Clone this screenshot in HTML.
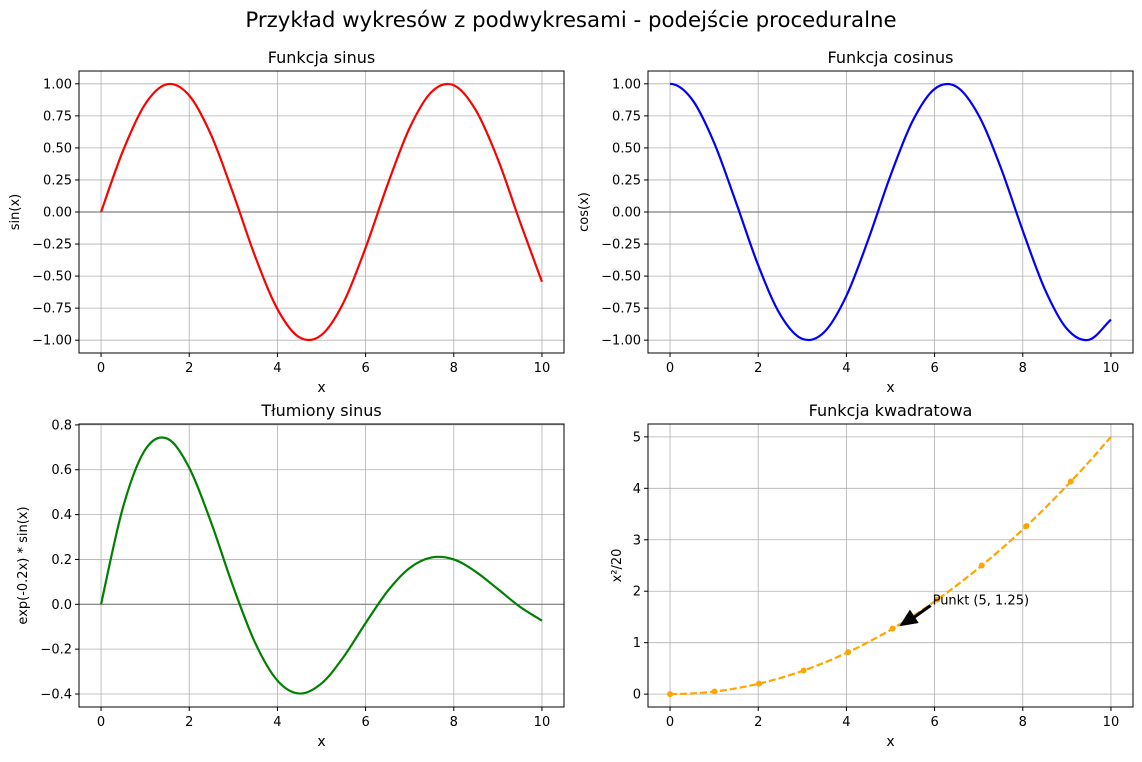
<!DOCTYPE html>
<html><head><meta charset="utf-8">
<style>
body{margin:0;background:#fff;font-family:"Liberation Sans","DejaVu Sans",sans-serif;}
svg text{font-family:"DejaVu Sans","Liberation Sans",sans-serif;}
</style></head>
<body>
<svg id="fig" width="1142" height="757" xmlns="http://www.w3.org/2000/svg">
<rect width="1142" height="757" fill="#fff"/>
<text x="571" y="27" text-anchor="middle" font-size="21.3">Przykład wykresów z podwykresami - podejście proceduralne</text>
</svg>
<script>
const xs = [0,0.5,1,1.5,2,2.5,3,3.5,4,4.5,5,5.5,6,6.5,7,7.5,8,8.5,9,9.5,10];
const sinVals = [0,.479,.841,.997,.909,.598,.141,-.351,-.757,-.978,-.959,-.706,-.279,.215,.657,.938,.989,.794,.412,-.075,-.544];
const cosVals = [1,.878,.540,.071,-.416,-.801,-.990,-.936,-.654,-.211,.284,.709,.960,.977,.754,.347,-.146,-.602,-.911,-.997,-.839];
const dampVals = [0,.434,.689,.739,.609,.363,.077,-.174,-.340,-.398,-.353,-.235,-.084,.059,.162,.209,.200,.145,.068,-.011,-.073];
const quadVals = [0,.0125,.05,.1125,.2,.3125,.45,.6125,.8,1.0125,1.25,1.5125,1.8,2.1125,2.45,2.8125,3.2,3.6125,4.05,4.5125,5];
const markerX = [0,1.01,2.02,3.03,4.04,5.05,6.06,7.07,8.08,9.09];
const markerY = [0,.051,.204,.459,.816,1.276,1.837,2.5,3.265,4.132];
const xTicks = [0,2,4,6,8,10];
const trigTicks = [-1,-0.75,-0.5,-0.25,0,0.25,0.5,0.75,1];
const dampTicks = [-0.4,-0.2,0,0.2,0.4,0.6,0.8];
const quadTicks = [0,1,2,3,4,5];

const NS="http://www.w3.org/2000/svg";
const svg=document.getElementById('fig');
function el(tag,attrs,parent){const e=document.createElementNS(NS,tag);for(const k in attrs)e.setAttribute(k,attrs[k]);(parent||svg).appendChild(e);return e;}

function panel(o){
  const g=el('g',{});
  
  
  const sx=v=>o.x0+(v-o.xmin)/(o.xmax-o.xmin)*(o.x1-o.x0);
  const sy=v=>o.y1-(v-o.ymin)/(o.ymax-o.ymin)*(o.y1-o.y0);
  xTicks.forEach(t=>{const l=el('line',{x1:sx(t),x2:sx(t),y1:o.y0,y2:o.y1,stroke:'#b0b0b0','stroke-width':0.8},g);
    });
  o.yTicks.forEach(t=>{const l=el('line',{x1:o.x0,x2:o.x1,y1:sy(t),y2:sy(t),stroke:'#b0b0b0','stroke-width':0.8},g);
    });
  if(o.zero){const z=el('line',{x1:o.x0,x2:o.x1,y1:sy(0),y2:sy(0),stroke:'#808080','stroke-width':1.2},g);
    }
  const P=o.xs.map((x,i)=>[sx(x),sy(o.ys[i])]);
  const n=P.length;
  // extrapolated end points for smoother ends
  const pre=[2*P[0][0]-P[1][0],P[1][1]];
  const post=[2*P[n-1][0]-P[n-2][0],2*P[n-1][1]-P[n-2][1]];
  let d='M'+P[0][0]+','+P[0][1];
  for(let i=0;i<n-1;i++){
    const p0=i>0?P[i-1]:(o.symStart?pre:P[0]),p1=P[i],p2=P[i+1],p3=i+2<n?P[i+2]:post;
    d+=` C${p1[0]+(p2[0]-p0[0])/6},${p1[1]+(p2[1]-p0[1])/6} ${p2[0]-(p3[0]-p1[0])/6},${p2[1]-(p3[1]-p1[1])/6} ${p2[0]},${p2[1]}`;
  }
  const c=el('path',{d:d,fill:'none',stroke:o.color,'stroke-width':2.2,'stroke-dasharray':o.dash||'none'},g);
  
  if(o.mx){o.mx.forEach((x,i)=>{const m=el('circle',{cx:sx(x),cy:sy(o.my[i]),r:3,fill:o.color},g);
    });}
  const f=el('rect',{x:o.x0,y:o.y0,width:o.x1-o.x0,height:o.y1-o.y0,fill:'none',stroke:'#000','stroke-width':1},g);
  
  xTicks.forEach(t=>{el('line',{x1:sx(t),x2:sx(t),y1:o.y1,y2:o.y1+4,stroke:'#000'},g);
    const tx=el('text',{x:sx(t),y:o.y1+19,'text-anchor':'middle','font-size':13},g);tx.textContent=t;
    });
  o.yTicks.forEach(t=>{el('line',{x1:o.x0-4,x2:o.x0,y1:sy(t),y2:sy(t),stroke:'#000'},g);
    const tx=el('text',{x:o.x0-7,y:sy(t)+4.5,'text-anchor':'end','font-size':13},g);
    tx.textContent=(t<0?'\u2212':'')+Math.abs(t).toFixed(o.dec);
    });
  const ti=el('text',{x:(o.x0+o.x1)/2,y:o.y0-8,'text-anchor':'middle','font-size':16},g);ti.textContent=o.title;
  
  const xl=el('text',{x:(o.x0+o.x1)/2,y:o.y1+39,'text-anchor':'middle','font-size':14},g);xl.textContent='x';
  
  const yc=(o.y0+o.y1)/2;
  const yl=el('text',{x:o.ylx,y:yc,'text-anchor':'middle','font-size':13,transform:`rotate(-90 ${o.ylx} ${yc})`},g);yl.textContent=o.ylabel;
  
  return {sx,sy,g};
}
panel({name:'sine-plot',x0:79,x1:564,y0:71,y1:353,xmin:-0.5,xmax:10.5,ymin:-1.1,ymax:1.1,yTicks:trigTicks,dec:2,xs:xs,ys:sinVals,color:'#ff0000',zero:true,title:'Funkcja sinus',ylabel:'sin(x)',ylx:19});
panel({name:'cosine-plot',x0:648,x1:1133,y0:71,y1:353,xmin:-0.5,xmax:10.5,ymin:-1.1,ymax:1.1,yTicks:trigTicks,dec:2,xs:xs,ys:cosVals,color:'#0000ff',zero:true,symStart:true,title:'Funkcja cosinus',ylabel:'cos(x)',ylx:588});
panel({name:'damped-sine-plot',x0:79,x1:564,y0:424,y1:707,xmin:-0.5,xmax:10.5,ymin:-0.458,ymax:0.804,yTicks:dampTicks,dec:1,xs:xs,ys:dampVals,color:'#008000',zero:true,title:'Tłumiony sinus',ylabel:'exp(-0.2x) * sin(x)',ylx:27});
const q=panel({name:'quadratic-plot',x0:648,x1:1133,y0:424,y1:707,xmin:-0.5,xmax:10.5,ymin:-0.25,ymax:5.25,yTicks:quadTicks,dec:0,xs:xs,ys:quadVals,color:'#ffa500',dash:'7,3',mx:markerX,my:markerY,title:'Funkcja kwadratowa',ylabel:'x²/20',ylx:621});
const ax=q.sx(6),ay=q.sy(1.8),tx=q.sx(5.2),ty=q.sy(1.32);
const ar=el('line',{x1:ax-4,y1:ay+4,x2:tx+12,y2:ty-7,stroke:'#000','stroke-width':3},q.g);

const ang=Math.atan2(ty-(ay+4),tx-(ax-4));
const hx=tx,hy=ty,L=18,W=8;
const bx=hx-L*Math.cos(ang),by=hy-L*Math.sin(ang);
const head=el('polygon',{points:`${hx},${hy} ${bx+W*Math.sin(ang)},${by-W*Math.cos(ang)} ${bx-W*Math.sin(ang)},${by+W*Math.cos(ang)}`,fill:'#000'},q.g);

const at=el('text',{x:ax-2,y:ay+3,'font-size':13},q.g);at.textContent='Punkt (5, 1.25)';

</script>
</body></html>
